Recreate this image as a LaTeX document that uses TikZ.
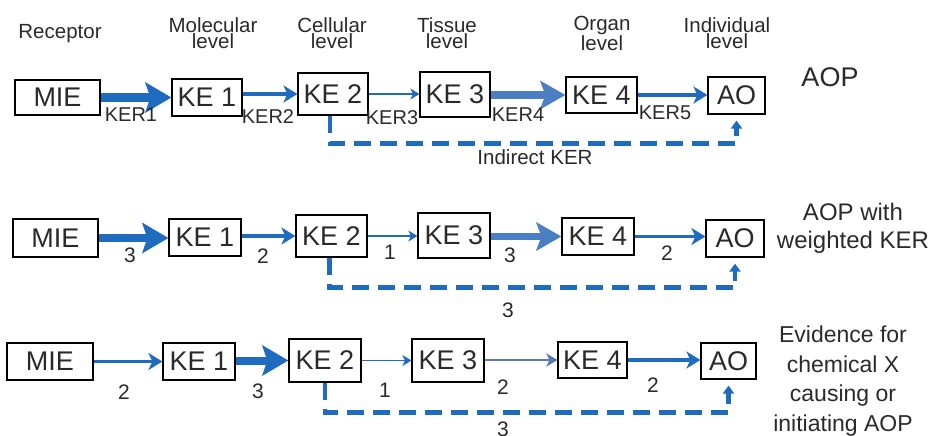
\documentclass[tikz,border=0pt]{standalone}
\usepackage{fontspec}
\setmainfont{Liberation Sans}
\usetikzlibrary{arrows.meta}
\definecolor{aopblue}{HTML}{1F6BC0}
\definecolor{aoplight}{HTML}{4A80C2}
\definecolor{aopgrey}{HTML}{5878B0}
\definecolor{txt}{HTML}{2A2A2A}
\begin{document}
\begin{tikzpicture}[x=1pt,y=-1pt,
  box/.style={draw=black,line width=1.2pt,inner sep=0pt,font=\fontsize{27}{27}\selectfont,text=txt},
  lvl/.style={font=\fontsize{20.5}{14}\selectfont,align=center,text=txt,inner sep=0pt},
  ker/.style={font=\fontsize{20}{20}\selectfont,text=txt,inner sep=0pt},
  num/.style={font=\fontsize{21}{21}\selectfont,text=txt,inner sep=0pt},
  side/.style={font=\fontsize{24}{28}\selectfont,align=center,text=txt,inner sep=0pt},
  wthree/.style={aopblue,line width=9pt,-{Stealth[length=26pt,width=30pt,inset=5pt]}},
  wthreel/.style={aoplight,line width=7pt,-{Stealth[length=25pt,width=28pt,inset=5pt]}},
  wtwo/.style={aopblue,line width=3.3pt,-{Stealth[length=14pt,width=17pt,inset=4pt]}},
  wtwog/.style={aopgrey,line width=2.6pt,-{Stealth[length=11pt,width=13pt,inset=3pt]}},
  wone/.style={aopblue,line width=1.3pt,-{Stealth[length=9pt,width=11pt,inset=2.5pt]}},
  dsh/.style={aopblue,line width=4.5pt,dash pattern=on 17pt off 9pt,shorten >=6pt,-{Triangle[length=8pt,width=11pt]}}
]
\useasboundingbox (0,0) rectangle (932,436);

% level labels
\node[lvl] (lr) at (60,34) {Receptor};
\node[lvl] (lm) at (213,33) {Molecular\\level};
\node[lvl] (lc) at (332,33) {Cellular\\level};
\node[lvl] (lt) at (447,33) {Tissue\\level};
\node[lvl] (lo) at (602,33) {Organ\\level};
\node[lvl] (li) at (727,33) {Individual\\level};

% row 1
\node[box,minimum width=85pt,minimum height=35pt] (m1) at (57.5,97.5) {MIE};
\node[box,minimum width=70pt,minimum height=37pt] (a1) at (207,97.5) {KE 1};
\node[box,minimum width=70pt,minimum height=42pt] (b1) at (333,94) {KE 2};
\node[box,minimum width=70pt,minimum height=45pt] (c1) at (455,94.5) {KE 3};
\node[box,minimum width=71pt,minimum height=36pt] (d1) at (601.5,95) {KE 4};
\node[box,minimum width=57pt,minimum height=37pt] (o1) at (736.5,95.5) {AO};
\draw[wthree] (m1.east) -- (a1.west);
\draw[wtwo] (a1.east |- b1.west) -- (b1.west);
\draw[wone] (b1.east) -- (b1.east -| c1.west);
\draw[wthreel] (c1.east |- d1.west) -- (d1.west);
\draw[wtwo] (d1.east) -- (d1.east -| o1.west);
\draw[dsh] ([xshift=-3pt]b1.south) -- ++(0,28) -| (o1.south);
\node[ker] (k1) at (131,115) {KER1};
\node[ker] (k2) at (268,117) {KER2};
\node[ker] (k3) at (392,118) {KER3};
\node[ker] (k4) at (518,115) {KER4};
\node[ker] (k5) at (665,113) {KER5};
\node[ker,font=\fontsize{20.5}{20.5}\selectfont] (ik) at (535,157) {Indirect KER};
\node[side,font=\fontsize{27}{27}\selectfont] (t1) at (830,77) {AOP};

% row 2
\node[box,minimum width=85pt,minimum height=38pt] (m2) at (55.5,238) {MIE};
\node[box,minimum width=72pt,minimum height=37pt] (a2) at (205,237.5) {KE 1};
\node[box,minimum width=71pt,minimum height=42pt] (b2) at (331.5,236) {KE 2};
\node[box,minimum width=72pt,minimum height=45pt] (c2) at (454,235.5) {KE 3};
\node[box,minimum width=72pt,minimum height=37pt] (d2) at (598,236.5) {KE 4};
\node[box,minimum width=58pt,minimum height=37pt] (o2) at (735,238.5) {AO};
\draw[wthree,line width=8pt] (m2.east) -- (m2.east -| a2.west);
\draw[wtwo] (a2.east |- b2.west) -- (b2.west);
\draw[wone] (b2.east) -- (b2.east -| c2.west);
\draw[wthreel] (c2.east |- d2.west) -- (d2.west);
\draw[wtwo,line width=2.8pt] (d2.east) -- (d2.east -| o2.west);
\draw[dsh] ([xshift=-2pt]b2.south) -- ++(0,30) -| (o2.south);
\node[num] (n21) at (130,255) {3};
\node[num] (n22) at (263,256) {2};
\node[num] (n23) at (390,252) {1};
\node[num] (n24) at (510,255) {3};
\node[num] (n25) at (667,253) {2};
\node[num] (n26) at (508,310) {3};
\node[side] (t2) at (853,228) {AOP with\\weighted KER};

% row 3
\node[box,minimum width=86pt,minimum height=37pt] (m3) at (50,361.5) {MIE};
\node[box,minimum width=72pt,minimum height=37pt] (a3) at (199,361.5) {KE 1};
\node[box,minimum width=72pt,minimum height=43pt] (b3) at (325,360.5) {KE 2};
\node[box,minimum width=72pt,minimum height=43pt] (c3) at (448,360.5) {KE 3};
\node[box,minimum width=69pt,minimum height=36pt] (d3) at (592.5,360) {KE 4};
\node[box,minimum width=55pt,minimum height=36pt] (o3) at (728.5,361) {AO};
\draw[wtwo] (m3.east) -- (m3.east -| a3.west);
\draw[wthree,line width=8pt] (a3.east |- b3.west) -- (b3.west);
\draw[wone] (b3.east) -- (b3.east -| c3.west);
\draw[wtwog] (c3.east |- d3.west) -- (d3.west);
\draw[wtwo,line width=3.6pt] (d3.east) -- (d3.east -| o3.west);
\draw[dsh] (b3.south) -- ++(0,30) -| (o3.south);
\node[num] (n31) at (124,392) {2};
\node[num] (n32) at (258,391) {3};
\node[num] (n33) at (385,390) {1};
\node[num] (n34) at (503,387) {2};
\node[num] (n35) at (653,385) {2};
\node[num] (n36) at (503,429) {3};
\node[side,font=\fontsize{23}{29.5}\selectfont] (t3) at (843,381) {Evidence for\\chemical X\\causing or\\initiating AOP};
\end{tikzpicture}
\end{document}
